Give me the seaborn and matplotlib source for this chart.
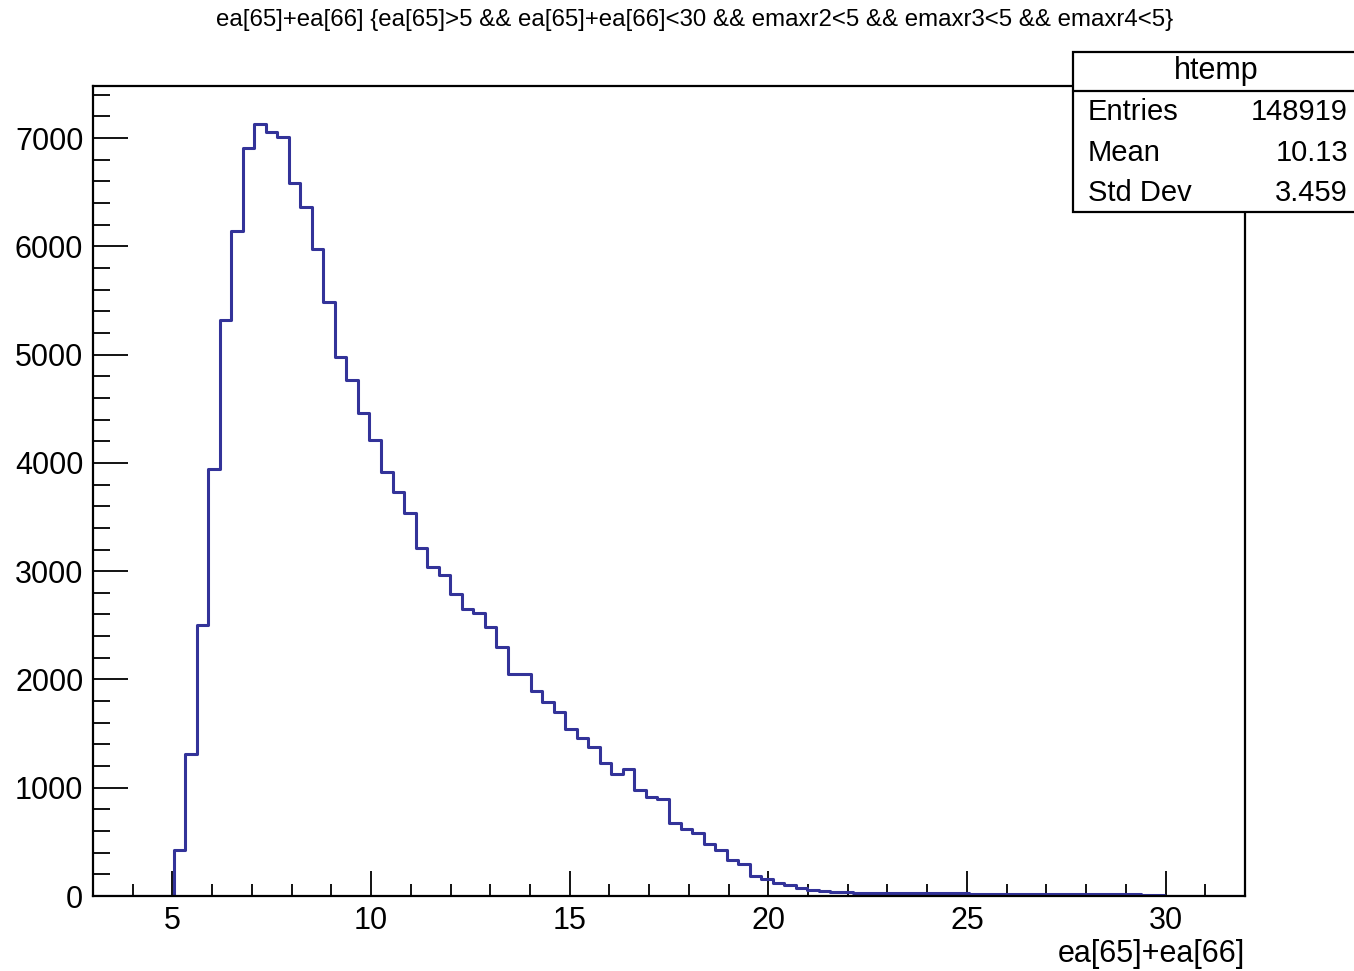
import numpy as np
import pandas as pd
import seaborn as sns
import matplotlib.pyplot as plt
from matplotlib.patches import Rectangle
from matplotlib.lines import Line2D
from matplotlib.ticker import MultipleLocator

# %% Histogram data

# binning of htemp: 100 bins between 3 and 32
x_min, x_max, n_bins = 3.0, 32.0, 100
# index of first filled bin
first_bin = 7
# bin contents, starting at first_bin
counts = [423, 1316, 2506, 3939, 5317, 6140, 6905, 7130, 7058,
          7012, 6581, 6359, 5974, 5487, 4978, 4769, 4460, 4207, 3915,
          3730, 3536, 3212, 3036, 2966, 2790, 2651, 2611, 2481, 2296,
          2050, 2050, 1889, 1794, 1695, 1541, 1458, 1378, 1233, 1125,
          1171, 977, 915, 900, 678, 622, 585, 478, 422, 330,
          293, 185, 154, 123, 102, 71, 52, 42, 36, 34,
          32, 31, 30, 29, 28, 28, 27, 26, 25, 24,
          23, 22, 21, 21, 20, 19, 19, 18, 18, 17,
          17, 16, 16, 15, 15, 14, 14, 2]

str_title = ('ea[65]+ea[66] {ea[65]>5 && ea[65]+ea[66]<30 && emaxr2<5 '
             '&& emaxr3<5 && emaxr4<5}')
str_xlabel = 'ea[65]+ea[66]'
stat_name = 'htemp'
stat_labels = ['Entries', 'Mean', 'Std Dev']
stat_values = ['148919', '10.13', '3.459']

# %% Prepare

ary_edges = np.linspace(x_min, x_max, n_bins + 1)
ary_centers = 0.5 * (ary_edges[:-1] + ary_edges[1:])
df_hist = pd.DataFrame({
    'x': ary_centers[first_bin:first_bin + len(counts)],
    'n': counts})

sns.set_style('white')
plt.rcParams['font.family'] = ['Liberation Sans', 'DejaVu Sans']
plt.rcParams['text.color'] = 'black'
plt.rcParams['axes.labelcolor'] = 'black'
plt.rcParams['xtick.color'] = 'black'
plt.rcParams['ytick.color'] = 'black'

# %% Plot

fig = plt.figure(figsize=(13.54, 9.71), dpi=100)
ax = fig.add_axes([0.0687, 0.0772, 0.8508, 0.8342])

sns.histplot(data=df_hist, x='x', weights='n', bins=n_bins,
             binrange=(x_min, x_max), element='step', fill=False,
             color='#333399', linewidth=2.2, ax=ax)

ax.set_xlim(x_min, x_max)
ax.set_ylim(0, 7480)
ax.set_ylabel('')
ax.set_xlabel(str_xlabel, loc='right', fontsize=22, labelpad=2)

ax.xaxis.set_major_locator(MultipleLocator(5))
ax.xaxis.set_minor_locator(MultipleLocator(1))
ax.yaxis.set_major_locator(MultipleLocator(1000))
ax.yaxis.set_minor_locator(MultipleLocator(200))
ax.tick_params(axis='both', which='both', direction='in', width=1.3,
               color='black', labelcolor='black', labelsize=22, pad=7,
               bottom=True, left=True, top=False, right=False)
ax.tick_params(axis='x', which='major', length=18)
ax.tick_params(axis='x', which='minor', length=9)
ax.tick_params(axis='y', which='major', length=25)
ax.tick_params(axis='y', which='minor', length=12)

for spine in ax.spines.values():
    spine.set_visible(True)
    spine.set_color('black')
    spine.set_linewidth(1.6)

fig.text(0.513, 0.979, str_title, ha='center', va='center', fontsize=17.3,
         family=['Liberation Sans Narrow', 'Liberation Sans'])

# stats box
box_l, box_b, box_t, box_div = 0.7925, 0.7817, 0.9464, 0.9063
fig.add_artist(Rectangle((box_l, box_b), 1.02 - box_l, box_t - box_b,
                         transform=fig.transFigure, facecolor='white',
                         edgecolor='black', linewidth=1.6, zorder=10))
fig.add_artist(Line2D([box_l, 1.0], [box_div, box_div],
                      transform=fig.transFigure, color='black',
                      linewidth=1.6, zorder=11))
fig.text(0.898, 0.927, stat_name, ha='center', va='center', fontsize=22,
         zorder=12)
lst_rows_y = [0.8847, 0.8424, 0.8012]
for lbl, val, y in zip(stat_labels, stat_values, lst_rows_y):
    fig.text(0.8035, y, lbl, ha='left', va='center', fontsize=21, zorder=12)
    fig.text(0.9956, y, val, ha='right', va='center', fontsize=21,
             zorder=12)

fig.savefig('out.png', dpi=100)
